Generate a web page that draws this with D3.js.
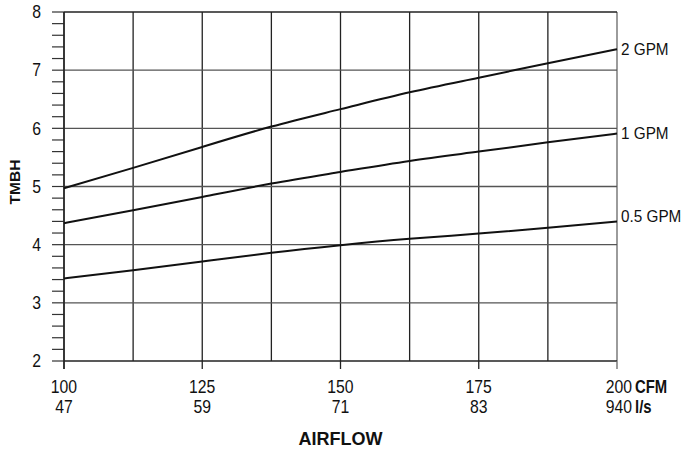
<!DOCTYPE html>
<html><head><meta charset="utf-8">
<script src="https://cdn.jsdelivr.net/npm/d3@7/dist/d3.min.js"></script>
<style>body{margin:0;background:#fff}svg{display:block}text{font-family:"Liberation Sans",Arial,sans-serif;fill:#111}</style>
</head><body><svg id="c" width="682" height="452"></svg>
<script>
const cfm = [100, 112.5, 125, 137.5, 150, 162.5, 175, 187.5, 200];
const gpm2 = [4.97, 5.32, 5.68, 6.03, 6.33, 6.62, 6.87, 7.12, 7.36];
const gpm1 = [4.37, 4.59, 4.82, 5.05, 5.25, 5.44, 5.60, 5.76, 5.91];
const gpm05 = [3.42, 3.56, 3.71, 3.86, 3.99, 4.10, 4.19, 4.29, 4.40];
const seriesNames = ["2 GPM", "1 GPM", "0.5 GPM"];
const xTicks = [100, 125, 150, 175, 200];
const xTicksLs = ["47", "59", "71", "83", "940"];
const yTicks = [2, 3, 4, 5, 6, 7, 8];

const svg = d3.select("#c");
const x = d3.scaleLinear().domain([100, 200]).range([64, 617]);
const y = d3.scaleLinear().domain([2, 8]).range([361, 12]);

function label(px, py, str, o) {
  o = Object.assign({size: 17.5, sx: 0.9, anchor: "start", weight: "normal", dy: 0}, o || {});
  const g = svg.append("g").attr("transform", `translate(${px},${py}) scale(${o.sx},1)`);
  return g.append("text").attr("text-anchor", o.anchor).attr("font-size", o.size)
    .attr("font-weight", o.weight).attr("dy", o.dy).text(str);
}

// grid
const gx = d3.range(100, 200.01, 12.5);
svg.append("g").selectAll("line").data(gx).join("line")
  .attr("x1", d => x(d)).attr("x2", d => x(d)).attr("y1", y(8)).attr("y2", y(2))
  .attr("stroke", d => d === 200 ? "#666" : "#222").attr("stroke-width", 1.3);
svg.append("g").selectAll("line").data(yTicks).join("line")
  .attr("x1", x(100)).attr("x2", x(200)).attr("y1", d => y(d)).attr("y2", d => y(d))
  .attr("stroke", d => (d === 8 || d === 2) ? "#222" : "#555")
  .attr("stroke-width", d => d === 2 ? 1.6 : 1.3);

// left axis with minor ticks
const minor = d3.range(2, 8.001, 0.2);
svg.append("g").selectAll("line").data(minor).join("line")
  .attr("x1", 52).attr("x2", x(100)).attr("y1", d => y(d)).attr("y2", d => y(d))
  .attr("stroke", "#333").attr("stroke-width", 1.2);
svg.append("line").attr("x1", x(100)).attr("x2", x(100)).attr("y1", y(8)).attr("y2", y(2) + 8)
  .attr("stroke", "#222").attr("stroke-width", 1.4);
yTicks.forEach(d => label(41, y(d), d, {anchor: "end", dy: "0.36em"}));

// bottom ticks
svg.append("g").selectAll("line").data(xTicks).join("line")
  .attr("x1", d => x(d)).attr("x2", d => x(d)).attr("y1", y(2)).attr("y2", y(2) + 8)
  .attr("stroke", d => d === 200 ? "#666" : "#222").attr("stroke-width", 1.3);
xTicks.forEach((d, i) => {
  const off = d === 200 ? 2 : 0;
  label(x(d) + off, 392.5, d, {anchor: "middle"});
  label(x(d) + off, 412.5, xTicksLs[i], {anchor: "middle"});
});
label(x(200) + 18, 392.5, "CFM", {weight: "bold", sx: 0.85});
label(x(200) + 18, 412.5, "l/s", {weight: "bold", sx: 0.85});

// titles
svg.append("text").attr("transform", `translate(20,182) rotate(-90)`)
  .attr("text-anchor", "middle").attr("font-size", 15.5).attr("font-weight", "bold").text("TMBH");
svg.append("text").attr("x", (x(100) + x(200)) / 2).attr("y", 445).attr("text-anchor", "middle")
  .attr("font-size", 18).attr("font-weight", "bold").text("AIRFLOW");

// curves
const line = d3.line().x((d, i) => x(cfm[i])).y(d => y(d)).curve(d3.curveNatural);
const series = [gpm2, gpm1, gpm05];
const labelShift = [0, -1, -6];
series.forEach((s, k) => {
  svg.append("path").attr("d", line(s)).attr("fill", "none").attr("stroke", "#111").attr("stroke-width", 2);
  label(x(200) + 4, y(s[s.length - 1]) + labelShift[k], seriesNames[k], {size: 17, dy: "0.36em"});
});
</script></body></html>
